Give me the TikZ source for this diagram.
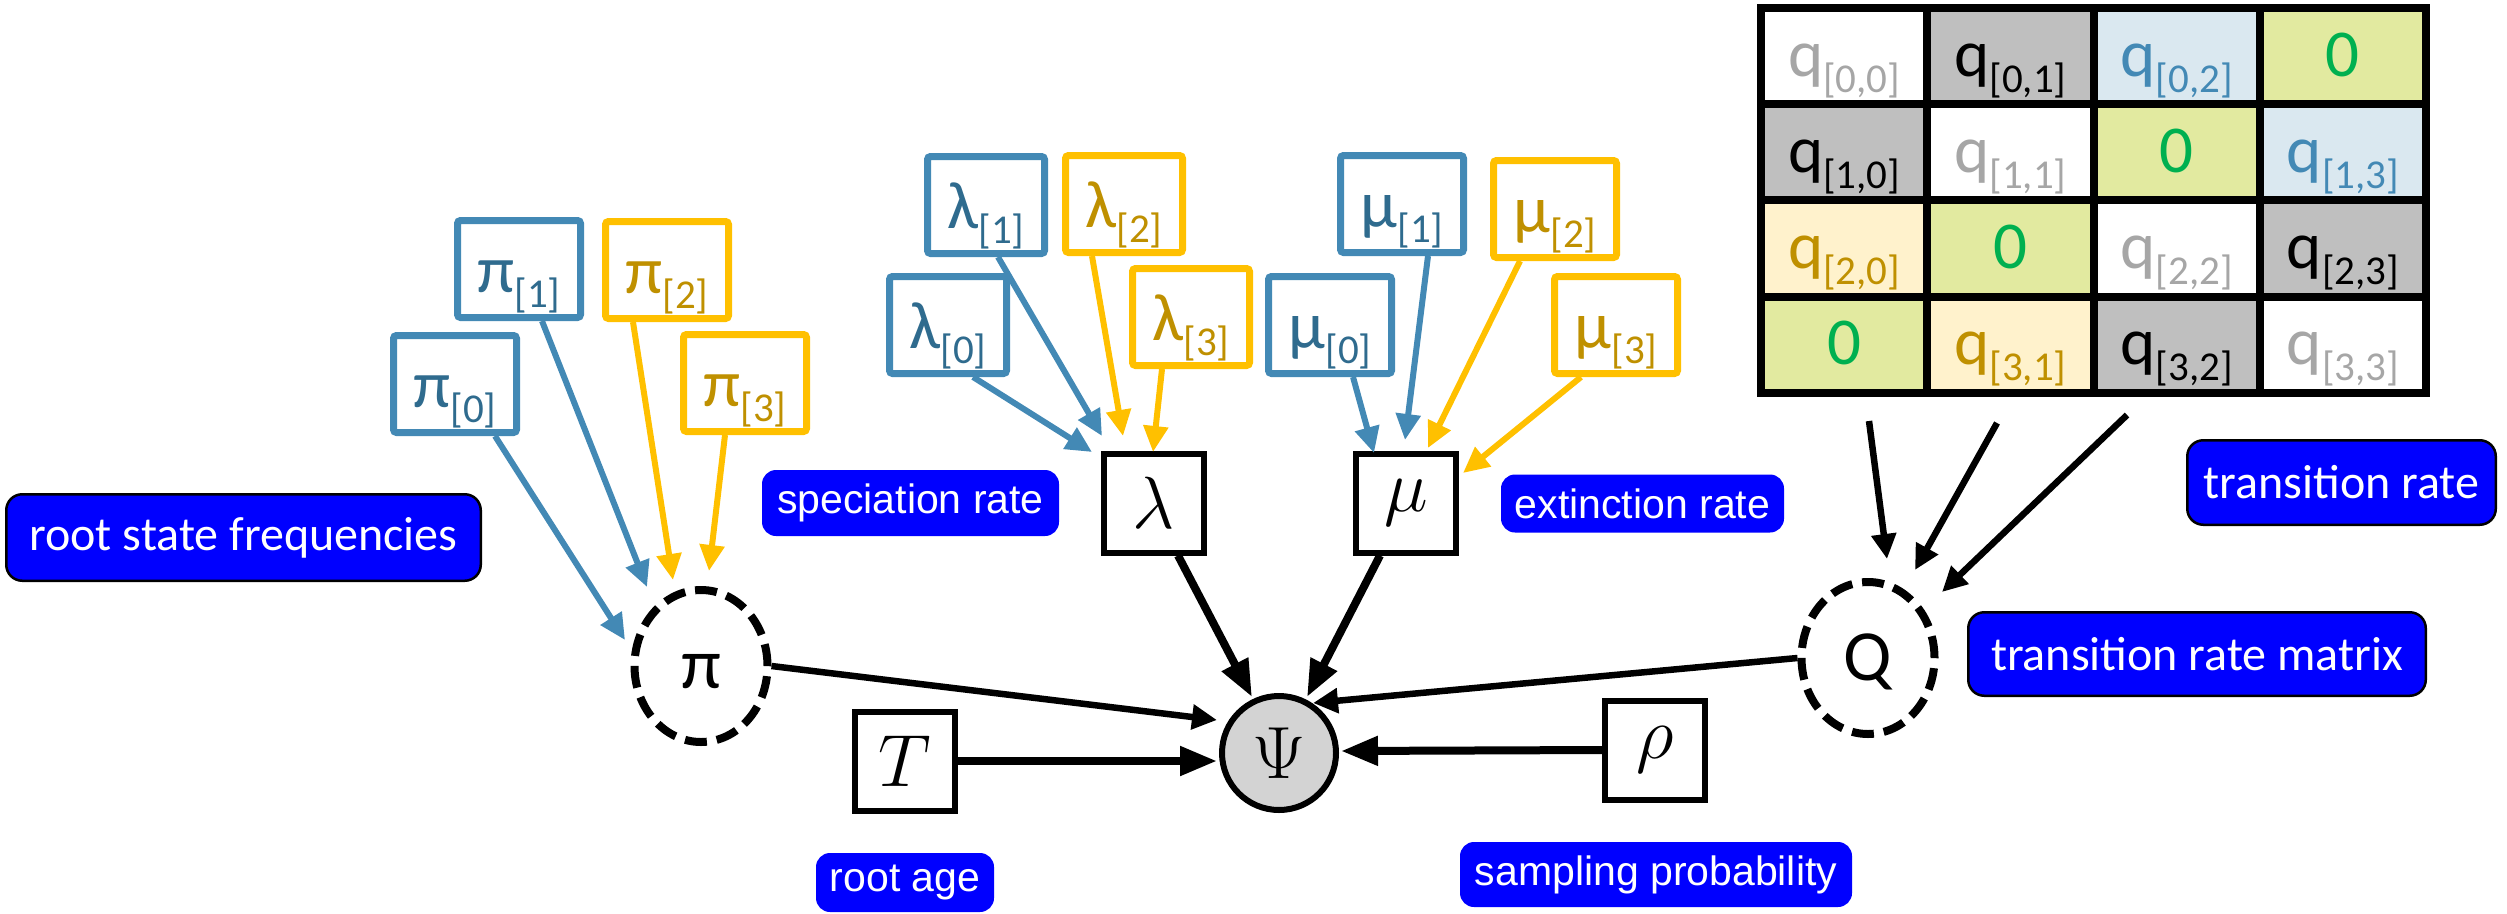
\RequirePackage{fix-cm}
\documentclass[tikz,border=0pt]{standalone}
\usepackage{fontspec}
\newfontfamily\calib{Carlito}
\newfontfamily\arial{Liberation Sans}
\usetikzlibrary{arrows.meta,shapes.geometric,calc}
\definecolor{bbord}{HTML}{4389B5}
\definecolor{btext}{HTML}{2F6B8E}
\definecolor{ybord}{HTML}{FFC000}
\definecolor{ytext}{HTML}{BF9000}
\definecolor{lblue}{HTML}{0000FF}
\definecolor{cgray}{HTML}{BFBFBF}
\definecolor{cblue}{HTML}{DAE8F0}
\definecolor{cgreen}{HTML}{E2EAA0}
\definecolor{cyell}{HTML}{FFF2CC}
\definecolor{tgray}{HTML}{A6A6A6}
\definecolor{tgreen}{HTML}{00B050}
\definecolor{tblue}{HTML}{4389B5}
\definecolor{psifill}{HTML}{D3D3D3}
\newcommand{\qsub}[2]{#1\raisebox{-16pt}{\fontsize{41}{41}\selectfont #2}}
\newcommand{\psub}[2]{#1\raisebox{-15pt}{\fontsize{41}{41}\selectfont #2}}
\begin{document}
\begin{tikzpicture}[x=1pt,y=-1pt,
  cell/.style={draw=black, line width=8pt, minimum width=166.25pt, minimum height=96.25pt, inner sep=0pt, text height=50pt, text depth=10pt, font=\calib\fontsize{67}{67}\selectfont},
  pbox/.style={line width=7pt, rounded corners=3pt, minimum width=123pt, minimum height=97pt, inner sep=0pt, text height=58pt, text depth=12pt, fill=white, font=\calib\fontsize{67}{67}\selectfont},
  bpar/.style={pbox, draw=bbord, text=btext},
  ypar/.style={pbox, draw=ybord, text=ytext},
  mbox/.style={draw=black, line width=6pt, minimum width=100pt, minimum height=99pt, inner sep=0pt, fill=white, font=\fontsize{74}{74}\selectfont},
  dnode/.style={ellipse, draw=black, line width=8pt, dash pattern=on 22pt off 10pt, minimum width=133pt, minimum height=152pt, inner sep=0pt, text height=45pt, text depth=0pt, font=\calib\fontsize{72}{72}\selectfont},
  psinode/.style={circle, draw=black, line width=6pt, fill=psifill, minimum size=114pt, inner sep=0pt, font=\fontsize{74}{74}\selectfont},
  lbla/.style={fill=lblue, text=white, rounded corners=14pt, inner sep=0pt, font=\arial\fontsize{41}{41}\selectfont},
  lblc/.style={fill=lblue, draw=black, line width=2.5pt, text=white, rounded corners=16pt, inner sep=0pt, font=\calib\fontsize{48}{48}\selectfont},
  carrow/.style={line width=6pt, -{Triangle[length=26pt,width=24pt]}},
  barrow/.style={line width=8pt, -{Triangle[length=37pt,width=28pt]}},
  sarrow/.style={line width=6.5pt, -{Triangle[length=25pt,width=24pt]}}
]
\useasboundingbox (0,0) rectangle (2507,913);

% transition rate matrix
\node[cell, fill=white,  text=tgray]  (m00) at (1844.1,56.1)  {\qsub{q}{[0,0]}};
\node[cell, fill=cgray,  text=black]  (m01) at (2010.4,56.1)  {\qsub{q}{[0,1]}};
\node[cell, fill=cblue,  text=tblue]  (m02) at (2176.6,56.1)  {\qsub{q}{[0,2]}};
\node[cell, fill=cgreen, text=tgreen] (m03) at (2342.9,56.1)  {0};
\node[cell, fill=cgray,  text=black]  (m10) at (1844.1,152.4) {\qsub{q}{[1,0]}};
\node[cell, fill=white,  text=tgray]  (m11) at (2010.4,152.4) {\qsub{q}{[1,1]}};
\node[cell, fill=cgreen, text=tgreen] (m12) at (2176.6,152.4) {0};
\node[cell, fill=cblue,  text=tblue]  (m13) at (2342.9,152.4) {\qsub{q}{[1,3]}};
\node[cell, fill=cyell,  text=ytext]  (m20) at (1844.1,248.6) {\qsub{q}{[2,0]}};
\node[cell, fill=cgreen, text=tgreen] (m21) at (2010.4,248.6) {0};
\node[cell, fill=white,  text=tgray]  (m22) at (2176.6,248.6) {\qsub{q}{[2,2]}};
\node[cell, fill=cgray,  text=black]  (m23) at (2342.9,248.6) {\qsub{q}{[2,3]}};
\node[cell, fill=cgreen, text=tgreen] (m30) at (1844.1,344.9) {0};
\node[cell, fill=cyell,  text=ytext]  (m31) at (2010.4,344.9) {\qsub{q}{[3,1]}};
\node[cell, fill=cgray,  text=black]  (m32) at (2176.6,344.9) {\qsub{q}{[3,2]}};
\node[cell, fill=white,  text=tgray]  (m33) at (2342.9,344.9) {\qsub{q}{[3,3]}};

% parameter boxes
\node[bpar] (p1) at (519,269) {\psub{π}{[1]}};
\node[ypar] (p2) at (667,270) {\psub{π}{[2]}};
\node[bpar] (p0) at (455,384) {\psub{π}{[0]}};
\node[ypar] (p3) at (745,383) {\psub{π}{[3]}};
\node[bpar, minimum width=117pt] (l1) at (986,205) {\psub{λ}{[1]}};
\node[ypar, minimum width=117pt] (l2) at (1124,204) {\psub{λ}{[2]}};
\node[bpar, minimum width=117pt] (l0) at (948,325) {\psub{λ}{[0]}};
\node[ypar, minimum width=117pt] (l3) at (1191,317) {\psub{λ}{[3]}};
\node[bpar] (u1) at (1402,204) {\psub{μ}{[1]}};
\node[ypar] (u2) at (1555,209) {\psub{μ}{[2]}};
\node[bpar] (u0) at (1330,325) {\psub{μ}{[0]}};
\node[ypar] (u3) at (1616,325) {\psub{μ}{[3]}};

% main nodes
\node[dnode] (pi) at (701,666) {π};
\node[dnode] (Q) at (1868,658) {Q};
\node[psinode] (psi) at (1279,753) {$\Psi$};
\node[mbox] (lam) at (1154,503) {$\lambda$};
\node[mbox] (mu) at (1406,503) {$\mu$};
\node[mbox] (T) at (905,761) {$T$};
\node[mbox] (rho) at (1655,750) {$\rho$};

% labels
\node[lblc, minimum width=474.5pt, minimum height=86.5pt] (rsf) at (243.5,537.5) {root state frequencies};
\node[lblc, minimum width=308.5pt, minimum height=84.5pt] (tr) at (2341.5,482.5) {transition rate};
\node[lblc, minimum width=457.5pt, minimum height=83.5pt] (trm) at (2197,654) {transition rate matrix};
\node[lbla, minimum width=297pt, minimum height=66pt] (spec) at (910.5,503) {speciation rate};
\node[lbla, minimum width=283pt, minimum height=58pt] (ext) at (1642.5,503.5) {extinction rate};
\node[lbla, minimum width=178pt, minimum height=59pt] (rage) at (905,882.5) {root age};
\node[lbla, minimum width=392pt, minimum height=65pt] (samp) at (1656,874.5) {sampling probability};

% coloured arrows
\draw[carrow, bbord] ($(p0.south)+(40,0)$) -- ($(pi)+(-76,-26)$);
\draw[carrow, bbord] ($(p1.south)+(23,0)$) -- ($(pi)+(-54,-79)$);
\draw[carrow, ybord] ($(p2.south)+(-34,0)$) -- ($(pi)+(-28,-86)$);
\draw[carrow, ybord] ($(p3.south)+(-20,0)$) -- ($(pi)+(8,-95)$);
\draw[carrow, bbord] ($(l0.south)+(25,0)$) -- ($(lam)+(-62,-51)$);
\draw[carrow, bbord] ($(l1.south)+(12,0)$) -- ($(lam)+(-52,-67)$);
\draw[carrow, ybord] ($(l2.south)+(-32,0)$) -- ($(lam)+(-31,-67)$);
\draw[carrow, ybord] ($(l3.south)+(-29,0)$) -- ($(lam)+(-1,-51)$);
\draw[carrow, bbord] ($(u0.south)+(23,0)$) -- ($(mu)+(-32,-50)$);
\draw[carrow, bbord] ($(u1.south)+(26,0)$) -- ($(mu)+(-1,-63)$);
\draw[carrow, ybord] ($(u2.south)+(-35,0)$) -- ($(mu)+(22,-55)$);
\draw[carrow, ybord] ($(u3.south)+(-35,0)$) -- ($(mu)+(57,-30)$);

% black arrows
\draw[barrow] ($(lam.south)+(24,0)$) -- ($(psi)+(-27,-56)$);
\draw[barrow] ($(mu.south)+(-26,0)$) -- ($(psi)+(28,-56)$);
\draw[sarrow] (pi.east) -- ($(psi)+(-62,-33)$);
\draw[sarrow] (Q.west) -- ($(psi)+(34,-50)$);
\draw[barrow] (T.east) -- ($(psi)+(-62,8)$);
\draw[barrow] (rho.west) -- ($(psi)+(62,-2)$);

\coordinate (qa) at (1869,421);
\coordinate (qb) at (1997,423);
\coordinate (qc) at (2127,415);
\draw[sarrow] (qa) -- ($(Q)+(19,-99)$);
\draw[sarrow] (qb) -- ($(Q)+(47,-88)$);
\draw[sarrow] (qc) -- ($(Q)+(74,-66)$);
\end{tikzpicture}
\end{document}
